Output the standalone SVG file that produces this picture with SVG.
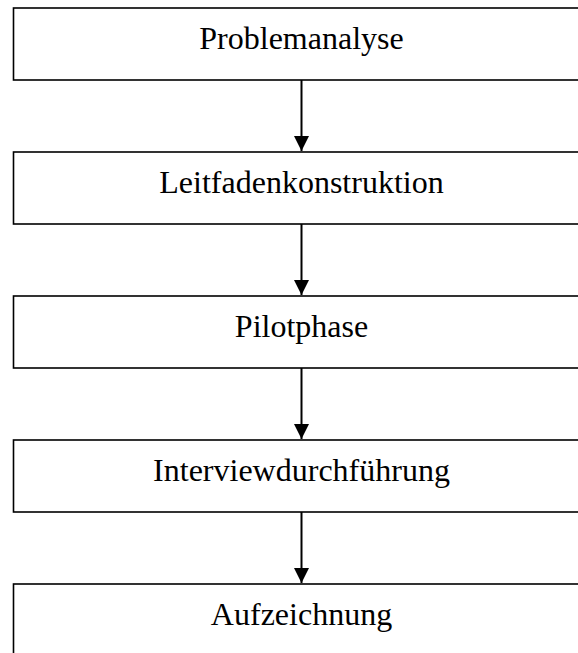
<svg xmlns="http://www.w3.org/2000/svg" width="578" height="653" viewBox="0 0 578 653">
<style>
.box{fill:#fff;stroke:#000;stroke-width:1.6}
.lbl{font-family:"Liberation Serif","Times New Roman",serif;font-size:32px;fill:#000;text-anchor:middle}
.con{stroke:#000;stroke-width:2;fill:none}
</style>
<defs>
<marker id="ah" markerUnits="userSpaceOnUse" markerWidth="16" markerHeight="15" refX="15" refY="7.5" orient="auto">
<path d="M0,0 L15,7.5 L0,15 Z" fill="#000"/>
</marker>
</defs>
<rect width="578" height="653" fill="#fff"/>
<g id="n1"><rect class="box" x="13.5" y="8" width="576" height="72"/><text class="lbl" x="301.5" y="49">Problemanalyse</text></g>
<g id="n2"><rect class="box" x="13.5" y="152" width="576" height="72"/><text class="lbl" x="301.5" y="193">Leitfadenkonstruktion</text></g>
<g id="n3"><rect class="box" x="13.5" y="296" width="576" height="72"/><text class="lbl" x="301.5" y="337">Pilotphase</text></g>
<g id="n4"><rect class="box" x="13.5" y="440" width="576" height="72"/><text class="lbl" x="301.5" y="481">Interviewdurchführung</text></g>
<g id="n5"><rect class="box" x="13.5" y="584" width="576" height="72"/><text class="lbl" x="301.5" y="625">Aufzeichnung</text></g>
<g id="connectors">
<line class="con" x1="301.5" y1="80" x2="301.5" y2="151" marker-end="url(#ah)"/>
<line class="con" x1="301.5" y1="224" x2="301.5" y2="295" marker-end="url(#ah)"/>
<line class="con" x1="301.5" y1="368" x2="301.5" y2="439" marker-end="url(#ah)"/>
<line class="con" x1="301.5" y1="512" x2="301.5" y2="583" marker-end="url(#ah)"/>
</g>
</svg>
